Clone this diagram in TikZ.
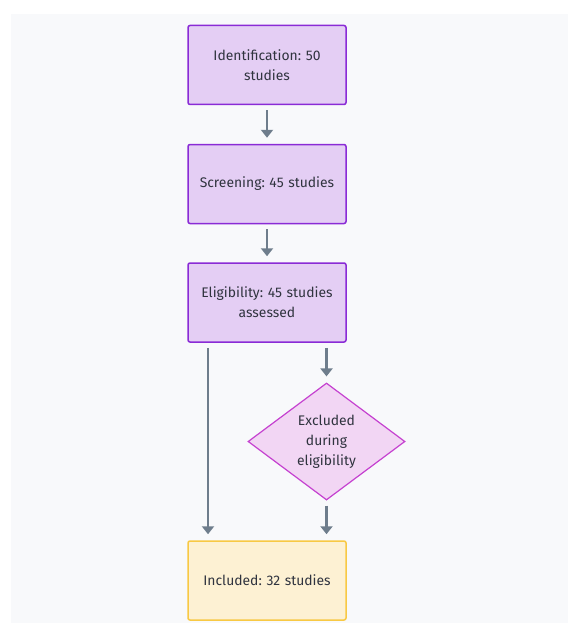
\documentclass[tikz,border=0pt]{standalone}
\usepackage{fontspec}
\setmainfont{Fira Sans}
\usetikzlibrary{shapes.geometric,arrows.meta}
\frenchspacing
\definecolor{bggrey}{HTML}{F8F9FB}
\definecolor{purplefill}{HTML}{E4CEF4}
\definecolor{purpleline}{HTML}{8A2BD6}
\definecolor{pinkfill}{HTML}{F2D6F4}
\definecolor{pinkline}{HTML}{C541D0}
\definecolor{yellowfill}{HTML}{FDF1D3}
\definecolor{yellowline}{HTML}{F8C944}
\definecolor{arrowgrey}{HTML}{6E7D8C}
\definecolor{textgrey}{HTML}{30343F}
\tikzset{
  stepbox/.style={draw=purpleline, fill=purplefill, line width=1.5pt, rounded corners=2pt,
    minimum width=158pt, minimum height=79pt, inner sep=0pt, align=center, text width=150pt,
    font=\fontsize{13.9}{20}\selectfont, text=textgrey},
  endbox/.style={stepbox, draw=yellowline, fill=yellowfill},
  decision/.style={diamond, draw=pinkline, fill=pinkfill, line width=1.2pt, aspect=1.34,
    minimum width=157pt, minimum height=117pt, inner sep=0pt, align=center, text width=80pt,
    font=\fontsize{13.9}{20}\selectfont, text=textgrey},
  flow/.style={draw=arrowgrey, line width=2.8pt, -{Triangle[length=8pt,width=12pt]}}
}
\begin{document}
\begin{tikzpicture}[x=1pt,y=-1pt]
\fill[white] (0,0) rectangle (568,623);
\fill[bggrey] (11,14) rectangle (568,623);
\useasboundingbox (0,0) rectangle (568,623);
\node[stepbox] (ident) at (267,65) {Identification: 50\\studies};
\node[stepbox] (screen) at (267,184) {Screening: 45 studies};
\node[stepbox] (elig) at (267,302.5) {Eligibility: 45 studies\\assessed};
\node[decision] (excl) at (326.5,441.5) {Excluded\\during\\eligibility};
\node[endbox] (incl) at (267,580.5) {Included: 32 studies};
\draw[flow] ([yshift=-5pt]ident.south) -- ([yshift=6pt]screen.north);
\draw[flow] ([yshift=-5pt]screen.south) -- ([yshift=6pt]elig.north);
\draw[flow] ([xshift=-59pt,yshift=-5pt]elig.south) -- ([xshift=-59pt,yshift=6pt]incl.north);
\draw[flow] ([xshift=59.5pt,yshift=-5pt]elig.south) -- ([yshift=6pt]excl.north);
\draw[flow] ([yshift=-5pt]excl.south) -- ([xshift=59.5pt,yshift=6pt]incl.north);
\end{tikzpicture}
\end{document}
